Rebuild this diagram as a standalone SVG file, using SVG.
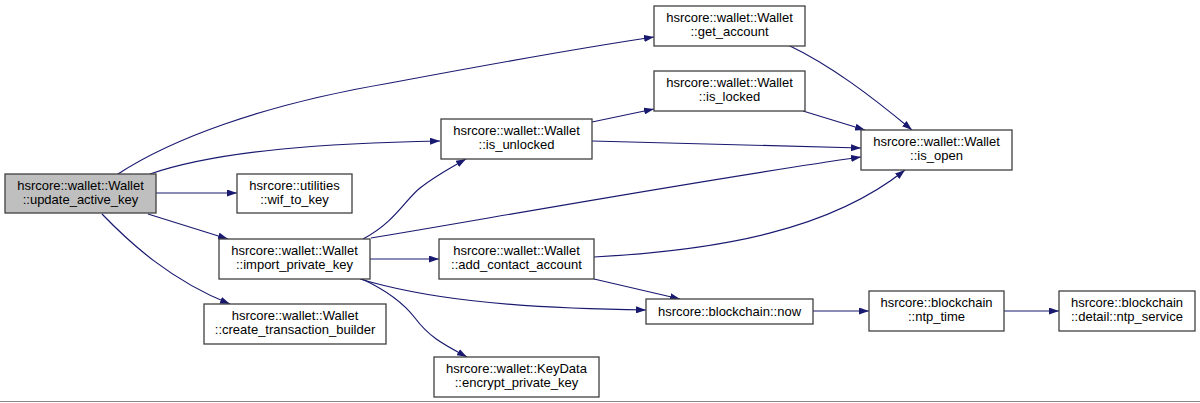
<svg xmlns="http://www.w3.org/2000/svg" width="1200" height="403" viewBox="0 0 1200 403">
<style>
.node rect{fill:#ffffff;stroke:#404040;stroke-width:1.3}
.node.main rect{fill:#bfbfbf}
.node text{font-family:"Liberation Sans",Arial,sans-serif;font-size:13px;fill:#000;text-anchor:middle}
.edges path{fill:none;stroke:#191970;stroke-width:1.2;marker-end:url(#arr)}
</style>
<defs>
<marker id="arr" viewBox="0 0 10 7" refX="10" refY="3.5" markerWidth="10" markerHeight="7" markerUnits="userSpaceOnUse" orient="auto">
<polygon points="0,0 10,3.5 0,7" fill="#191970"/>
</marker>
</defs>
<rect x="0" y="0" width="1200" height="403" fill="#ffffff"/>
<line x1="0" y1="401.5" x2="1200" y2="401.5" stroke="#888888" stroke-width="1"/>
<g class="edges">
<path d="M118,174 C170,140 260,105 390,83 C470,68 580,48 654,37"/>
<path d="M150,174 C220,150 330,143 440,141"/>
<path d="M156,193 L237,193"/>
<path d="M148,214 L228,239"/>
<path d="M102,214 C130,243 170,280 230,304"/>
<path d="M363,239 C395,222 405,200 420,188 C435,176 450,168 466,159"/>
<path d="M371,238 C480,220 700,180 861,157"/>
<path d="M370,259 L439,259"/>
<path d="M360,279 C420,297 500,308 646,310"/>
<path d="M362,279 C390,292 405,305 415,318 C430,338 445,345 467,357"/>
<path d="M592,122 L654,109"/>
<path d="M592,141 L861,148"/>
<path d="M788,45 C830,65 870,95 912,130"/>
<path d="M803,111 L865,130"/>
<path d="M594,257 C720,250 830,230 905,170"/>
<path d="M594,279 L680,299"/>
<path d="M813,311 L869,311"/>
<path d="M1004,311 L1059,311"/>
</g>
<g id="update_active_key" class="node main"><rect x="5" y="174" width="151" height="39"/><text x="80.5" y="190">hsrcore::wallet::Wallet</text><text x="80.5" y="204">::update_active_key</text></g>
<g id="wif_to_key" class="node"><rect x="237" y="174" width="115" height="39"/><text x="294.5" y="190">hsrcore::utilities</text><text x="294.5" y="204">::wif_to_key</text></g>
<g id="import_private_key" class="node"><rect x="219" y="239" width="151" height="40"/><text x="294.5" y="255">hsrcore::wallet::Wallet</text><text x="294.5" y="269">::import_private_key</text></g>
<g id="create_transaction_builder" class="node"><rect x="204" y="304" width="182" height="40"/><text x="295" y="320">hsrcore::wallet::Wallet</text><text x="295" y="334">::create_transaction_builder</text></g>
<g id="get_account" class="node"><rect x="654" y="6" width="151" height="40"/><text x="729.5" y="22">hsrcore::wallet::Wallet</text><text x="729.5" y="36">::get_account</text></g>
<g id="is_locked" class="node"><rect x="654" y="71" width="151" height="40"/><text x="729.5" y="87">hsrcore::wallet::Wallet</text><text x="729.5" y="101">::is_locked</text></g>
<g id="is_unlocked" class="node"><rect x="441" y="119" width="151" height="40"/><text x="516.5" y="135">hsrcore::wallet::Wallet</text><text x="516.5" y="149">::is_unlocked</text></g>
<g id="is_open" class="node"><rect x="861" y="130" width="151" height="40"/><text x="936.5" y="146">hsrcore::wallet::Wallet</text><text x="936.5" y="160">::is_open</text></g>
<g id="add_contact_account" class="node"><rect x="439" y="239" width="155" height="40"/><text x="516.5" y="255">hsrcore::wallet::Wallet</text><text x="516.5" y="269">::add_contact_account</text></g>
<g id="now" class="node"><rect x="646" y="299" width="167" height="25"/><text x="729.5" y="316">hsrcore::blockchain::now</text></g>
<g id="encrypt_private_key" class="node"><rect x="434" y="357" width="165" height="40"/><text x="516.5" y="373">hsrcore::wallet::KeyData</text><text x="516.5" y="387">::encrypt_private_key</text></g>
<g id="ntp_time" class="node"><rect x="869" y="291" width="135" height="40"/><text x="936.5" y="307">hsrcore::blockchain</text><text x="936.5" y="321">::ntp_time</text></g>
<g id="ntp_service" class="node"><rect x="1059" y="291" width="136" height="40"/><text x="1127" y="307">hsrcore::blockchain</text><text x="1127" y="321">::detail::ntp_service</text></g>
</svg>
